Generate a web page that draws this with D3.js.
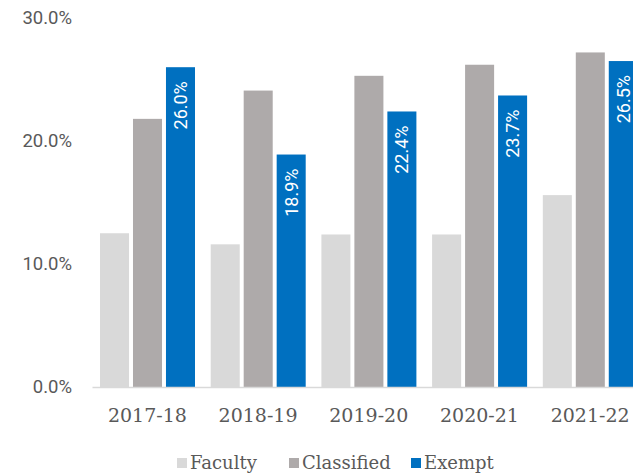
<!DOCTYPE html>
<html>
<head>
<meta charset="utf-8">
<script src="https://cdn.jsdelivr.net/npm/d3@7"></script>
<style>
    body { margin: 0; background: #fff; overflow: hidden; }
    svg { display: block; }
</style>
</head>
<body>
<div id="chart"></div>
<script>
const years = ['2017-18', '2018-19', '2019-20', '2020-21', '2021-22'];
const seriesNames = ['Faculty', 'Classified', 'Exempt'];
const faculty = [0.125, 0.116, 0.124, 0.124, 0.156];
const classified = [0.218, 0.241, 0.253, 0.262, 0.272];
const exempt = [0.260, 0.189, 0.224, 0.237, 0.265];
const yTicks = [0, 0.1, 0.2, 0.3];
const colors = ['#d9d9d9', '#aeaaaa', '#0070c0'];

const width = 633;
const height = 474;

const svg = d3.select('#chart')
    .append('svg')
    .attr('width', width)
    .attr('height', height);

const seriesValues = [faculty, classified, exempt];
const rows = years.map((year, i) => ({
    year: year,
    values: seriesNames.map((name, s) => ({ name: name, value: seriesValues[s][i], s: s }))
}));

const x0 = d3.scaleBand()
    .domain(years)
    .range([92, 645.5]);

const x1 = d3.scaleBand()
    .domain(seriesNames)
    .range([8, 103])
    .paddingInner(0.12);

const y = d3.scaleLinear()
    .domain([0, 0.3])
    .range([387, 18]);

// y axis labels (no line)
const yAxis = svg.append('g')
    .attr('transform', 'translate(72,0)')
    .call(d3.axisLeft(y).tickValues(yTicks).tickFormat(d3.format('.1%')).tickSize(0).tickPadding(0));
yAxis.select('.domain').remove();
yAxis.selectAll('text')
    .style('font-family', 'Roboto, sans-serif')
    .style('font-size', '18.5px')
    .style('fill', '#595959');

// bars
const groups = svg.selectAll('.group')
    .data(rows)
    .enter()
    .append('g')
    .attr('class', 'group')
    .attr('transform', d => `translate(${x0(d.year)},0)`);

groups.selectAll('rect')
    .data(d => d.values)
    .enter()
    .append('rect')
    .attr('x', d => x1(d.name))
    .attr('y', d => y(d.value))
    .attr('width', x1.bandwidth())
    .attr('height', d => y(0) - y(d.value))
    .attr('fill', d => colors[d.s]);

// labels on exempt bars
groups.append('text')
    .attr('transform', d => {
        const cx = x1('Exempt') + x1.bandwidth() / 2 + 6.5;
        const top = y(d.values[2].value) + 14;
        return `translate(${cx},${top}) rotate(-90)`;
    })
    .attr('text-anchor', 'end')
    .style('font-family', 'Roboto, sans-serif')
    .style('font-size', '18px')
    .style('fill', '#fff')
    .text(d => d3.format('.1%')(d.values[2].value));

// x axis
const xAxis = svg.append('g')
    .attr('transform', 'translate(0,387)')
    .call(d3.axisBottom(x0).tickSize(0).tickSizeOuter(0).tickPadding(22));
xAxis.select('.domain')
    .attr('stroke', '#d9d9d9')
    .attr('stroke-width', 1.3);
xAxis.selectAll('text')
    .style('font-family', '"DejaVu Serif", serif')
    .style('font-size', '19px')
    .style('fill', '#595959');

// legend
const legendX = [177, 289, 411];
const legend = svg.selectAll('.legend')
    .data(seriesNames)
    .enter()
    .append('g')
    .attr('class', 'legend')
    .attr('transform', (d, i) => `translate(${legendX[i]},0)`);

legend.append('rect')
    .attr('x', 0)
    .attr('y', 458)
    .attr('width', 10)
    .attr('height', 10)
    .attr('fill', (d, i) => colors[i]);

legend.append('text')
    .attr('x', 13)
    .attr('y', 469)
    .style('font-family', '"DejaVu Serif", serif')
    .style('font-size', '18px')
    .style('fill', '#595959')
    .text(d => d);
</script>
</body>
</html>
